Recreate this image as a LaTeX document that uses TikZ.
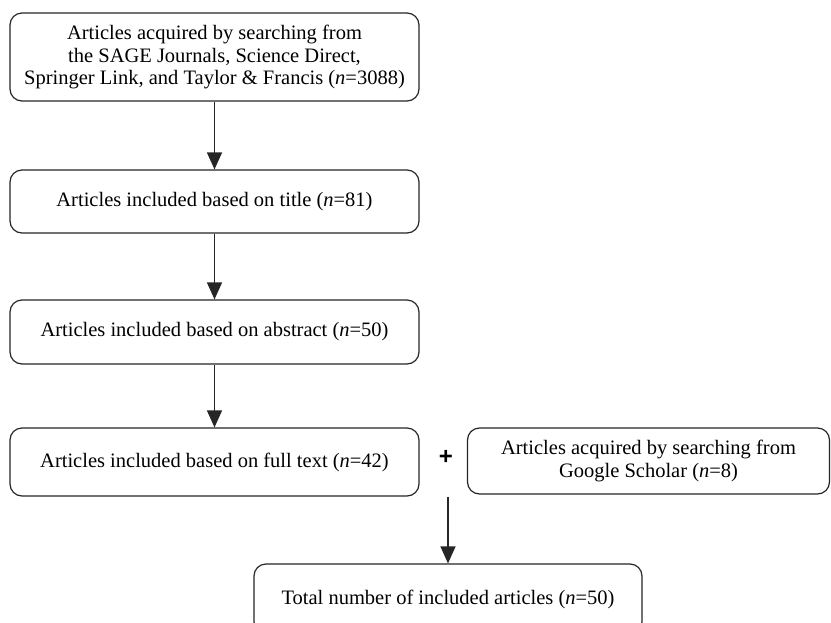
\documentclass[tikz,border=0pt]{standalone}
\usepackage{fontspec}
\setmainfont{Liberation Serif}
\newfontfamily\plusfont{Liberation Sans}
\usetikzlibrary{arrows.meta}
\tikzset{
  box/.style={draw=black!85, line width=1.2pt, rounded corners=12pt, rectangle,
    inner sep=0pt, align=center, font=\fontsize{20.5}{22.5}\selectfont},
  arr/.style={draw=black!85, line width=1.3pt, -{Triangle[width=15pt,length=17pt]}}
}
\begin{document}
\begin{tikzpicture}[x=1pt,y=-1pt]
\clip (0,0) rectangle (831,622);
\fill[white] (0,0) rectangle (831,622);
\node[box, minimum width=409pt, minimum height=88pt] (b1) at (214.5,57)
  {Articles acquired by searching from\\the SAGE Journals, Science Direct,\\Springer Link, and Taylor \& Francis (\textit{n}=3088)};
\node[box, minimum width=409pt, minimum height=63pt] (b2) at (214.5,201.5)
  {Articles included based on title (\textit{n}=81)};
\node[box, minimum width=409pt, minimum height=64pt] (b3) at (214.5,332)
  {Articles included based on abstract (\textit{n}=50)};
\node[box, minimum width=409pt, minimum height=68pt] (b4) at (214.5,462)
  {Articles included based on full text (\textit{n}=42)};
\node[box, minimum width=362pt, minimum height=66pt] (b5) at (648.5,461)
  {Articles acquired by searching from\\Google Scholar (\textit{n}=8)};
\node[box, minimum width=388pt, minimum height=70pt] (b6) at (448,599)
  {Total number of included articles (\textit{n}=50)};
\node[font=\plusfont\bfseries\fontsize{24}{24}\selectfont, inner sep=0pt] (plus) at (446,457) {+};
\coordinate (j) at (b6.north |- b4.south);
\draw[arr] (b1) -- (b2);
\draw[arr] (b2) -- (b3);
\draw[arr] (b3) -- (b4);
\draw[arr] (j) -- (b6.north);
\end{tikzpicture}
\end{document}
